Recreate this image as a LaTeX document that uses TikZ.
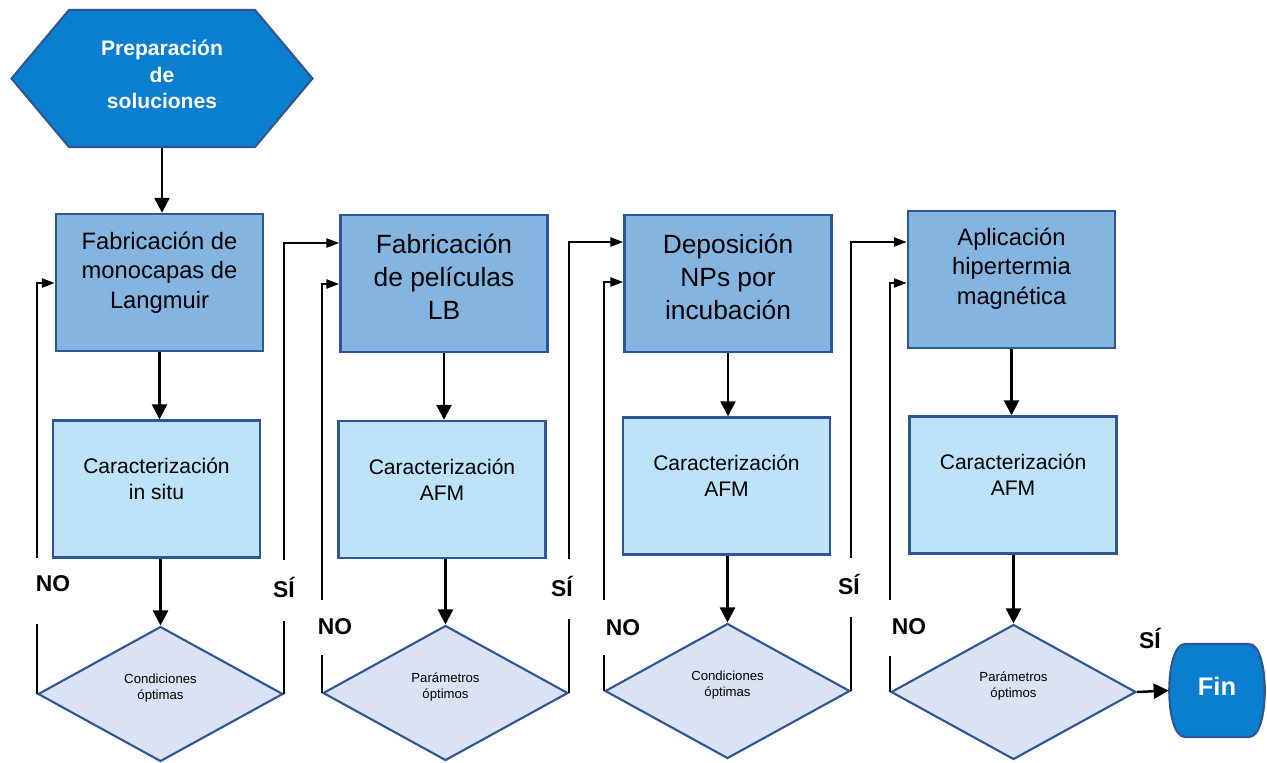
\documentclass[tikz,border=0pt]{standalone}
\usepackage{fontspec}
\setmainfont{Liberation Sans}
\usetikzlibrary{arrows.meta,calc,shapes.geometric,shapes.symbols,positioning}
\definecolor{cEdge}{HTML}{2F5597}
\definecolor{cStart}{HTML}{0A7ECF}
\definecolor{cFab}{HTML}{84B4E0}
\definecolor{cChar}{HTML}{BDE3F8}
\definecolor{cDec}{HTML}{DAE3F3}
\newcommand{\padbot}[1]{\rule[-#1]{0pt}{0pt}}
\tikzset{
  flowarrow/.style={-{Triangle[length=3mm,width=3mm]},line width=1.4pt},
  loopline/.style ={line width=1.4pt},
  loopin/.style   ={loopline,-{Triangle[length=2.6mm,width=1.8mm]}},
  stepbox/.style  ={rectangle,draw=cEdge,line width=1.4pt,align=center,
                    minimum width=4.14cm,minimum height=2.74cm,inner sep=2pt},
  fab/.style      ={stepbox,fill=cFab},
  charbox/.style  ={stepbox,fill=cChar,font=\fontsize{12}{14.7}\selectfont},
  decision/.style ={diamond,draw=cEdge,line width=1.2pt,fill=cDec,align=center,
                    minimum width=4.9cm,minimum height=2.7cm,inner sep=0pt,
                    font=\fontsize{7.5}{9}\selectfont},
  answer/.style   ={font=\bfseries\fontsize{13}{15}\selectfont},
  startbox/.style ={signal,signal to=east and west,signal pointer angle=100,
                    draw=cEdge,line width=1.2pt,fill=cStart,text=white,align=center,
                    minimum width=6.02cm,minimum height=2.74cm,inner sep=0pt,
                    font=\bfseries\fontsize{12}{15}\selectfont},
  endbox/.style   ={rectangle,minimum width=1.92cm,minimum height=1.86cm,text=white,
                    font=\bfseries\fontsize{14.5}{17}\selectfont},
}
\begin{document}
\begin{tikzpicture}[x=0.02cm,y=-0.02cm]
  \useasboundingbox (0,0) rectangle (1267,762);

  % inicio
  \node[startbox] (prep) at (162,78.5) {Preparación\\de\\soluciones\padbot{0.16cm}};

  % etapa 1
  \node[fab,font=\fontsize{13.5}{16.8}\selectfont] (fab1) at (159.5,282.5)
    {Fabricación de\\monocapas de\\Langmuir\padbot{0.5cm}};
  \node[charbox] (car1) at (156.5,489) {Caracterización\\in situ\padbot{0.4cm}};
  \node[decision] (dec1) at (160.5,694) {Condiciones\\óptimas\padbot{0.28cm}};

  % etapa 2
  \node[fab,font=\fontsize{15}{18.7}\selectfont] (fab2) at (444,283.5)
    {Fabricación\\de películas\\LB\padbot{0.28cm}};
  \node[charbox] (car2) at (442,489.5) {Caracterización\\AFM\padbot{0.4cm}};
  \node[decision] (dec2) at (445.5,693) {Parámetros\\óptimos\padbot{0.28cm}};

  % etapa 3
  \node[fab,font=\fontsize{15}{18.7}\selectfont] (fab3) at (728,283.5)
    {Deposición\\NPs por\\incubación\padbot{0.28cm}};
  \node[charbox] (car3) at (726.5,486) {Caracterización\\AFM\padbot{0.4cm}};
  \node[decision] (dec3) at (727.5,691) {Condiciones\\óptimas\padbot{0.28cm}};

  % etapa 4
  \node[fab,font=\fontsize{13.5}{16.8}\selectfont] (fab4) at (1011.5,279.5)
    {Aplicación\\hipertermia\\magnética\padbot{0.54cm}};
  \node[charbox] (car4) at (1013,485) {Caracterización\\AFM\padbot{0.4cm}};
  \node[decision] (dec4) at (1013.5,692) {Parámetros\\óptimos\padbot{0.28cm}};

  % fin
  \filldraw[fill=cStart,draw=cEdge,line width=1.2pt]
    (1185,644) -- (1249,644) .. controls (1270,644) and (1270,737) .. (1249,737)
    -- (1185,737) .. controls (1164,737) and (1164,644) .. (1185,644) -- cycle;
  \node[endbox] (fin) at (1217,690.5) {Fin\padbot{0.16cm}};

  % flujo vertical
  \draw[flowarrow] (prep.south) -- (prep.south |- fab1.north);
  \foreach \i in {1,2,3,4} {
    \draw[flowarrow] (fab\i.south) -- (fab\i.south |- car\i.north);
    \draw[flowarrow] (dec\i.north |- car\i.south) -- (dec\i.north);
  }

  % respuestas etapa 1
  \coordinate (no1a) at (dec1.west |- 0,558);
  \coordinate (no1b) at (dec1.west |- 0,624);
  \draw[loopline] (dec1.west) -- (no1b);
  \draw[loopin] (no1a) |- (fab1.west |- 0,283);
  \node[answer] (no1) at (53,584) {NO};
  \coordinate (si1a) at (dec1.east |- 0,560);
  \coordinate (si1b) at (dec1.east |- 0,621);
  \draw[loopline] (dec1.east) -- (si1b);
  \draw[loopin] (si1a) |- (fab2.west |- 0,243);
  \node[answer] (si1) at (284,587) {SÍ};

  % respuestas etapa 2
  \coordinate (no2a) at (dec2.west |- 0,600);
  \coordinate (no2b) at (dec2.west |- 0,655);
  \draw[loopline] (dec2.west) -- (no2b);
  \draw[loopin] (no2a) |- (fab2.west |- 0,284);
  \node[answer] (no2) at (335,627) {NO};
  \coordinate (si2a) at (dec2.east |- 0,559);
  \coordinate (si2b) at (dec2.east |- 0,619);
  \draw[loopline] (dec2.east) -- (si2b);
  \draw[loopin] (si2a) |- (fab3.west |- 0,242);
  \node[answer] (si2) at (562,586) {SÍ};

  % respuestas etapa 3
  \coordinate (no3a) at (dec3.west |- 0,600);
  \coordinate (no3b) at (dec3.west |- 0,655);
  \draw[loopline] (dec3.west) -- (no3b);
  \draw[loopin] (no3a) |- (fab3.west |- 0,282);
  \node[answer] (no3) at (623,628) {NO};
  \coordinate (si3a) at (dec3.east |- 0,558);
  \coordinate (si3b) at (dec3.east |- 0,617);
  \draw[loopline] (dec3.east) -- (si3b);
  \draw[loopin] (si3a) |- (fab4.west |- 0,242);
  \node[answer] (si3) at (849,584) {SÍ};

  % respuestas etapa 4
  \coordinate (no4a) at (dec4.west |- 0,600);
  \coordinate (no4b) at (dec4.west |- 0,656);
  \draw[loopline] (dec4.west) -- (no4b);
  \draw[loopin] (no4a) |- (fab4.west |- 0,283);
  \node[answer] (no4) at (909,627) {NO};
  \draw[flowarrow] (dec4.east) -- (fin.west);
  \node[answer] (si4) at (1150,638) {SÍ};
\end{tikzpicture}
\end{document}
